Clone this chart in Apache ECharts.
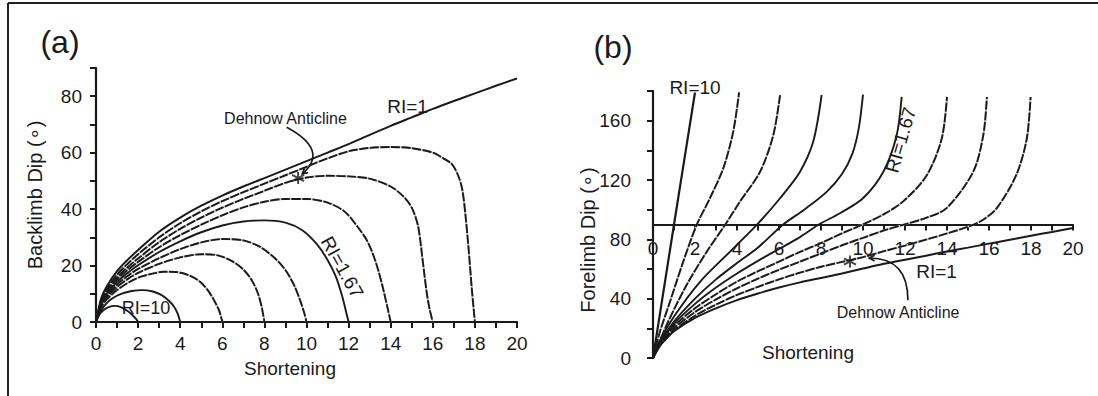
<!DOCTYPE html>
<html><head><meta charset="utf-8">
<script src="https://cdn.jsdelivr.net/npm/echarts@6/dist/echarts.min.js"></script>
<style>html,body{margin:0;padding:0;background:#fff}#c{width:1098px;height:396px}</style>
</head><body><div id="c"></div>
<script>
// ---------- Panel (a): Backlimb dip vs shortening ----------
const aRI1 = [[0,0],[0.25,8.5],[0.5,12.5],[1,18],[1.5,22],[2,25.5],[3,32],[4,37],[5,41.2],[6,44.8],[7,48],[8,51],[9,54],[10,57],[11,60],[12,63],[13,66.3],[14,69.5],[15,72.5],[16,75.5],[17,78.3],[18,81],[19,83.7],[20,86.3]];
const a18 = [[0,0],[0.25,7.8],[0.5,11.6],[1,16.8],[1.5,20.6],[2,24],[3,30],[4,35],[5,39.2],[6,42.8],[7,46],[8,49],[9,52],[10,55],[11,58],[12,60.5],[13,61.7],[14,62],[15,61.6],[16,60],[16.5,58],[16.9,56],[17.2,52],[17.4,47],[17.55,38],[17.7,26],[17.85,12],[18,0]];
const a16 = [[0,0],[0.25,7.3],[0.5,10.9],[1,15.8],[1.5,19.4],[2,22.5],[3,28.3],[4,33],[5,37],[6,40.5],[7,43.6],[8,46.5],[9,49.3],[10,51.2],[11,51.8],[12,51.6],[13,50.8],[14,48],[14.6,44.5],[15,40.5],[15.3,34],[15.5,23],[15.7,11],[15.85,4.5],[16,0]];
const a14 = [[0,0],[0.25,6.9],[0.5,10.3],[1,15],[1.5,18.4],[2,21.3],[3,26.5],[4,30.8],[5,34.5],[6,37.8],[7,40.6],[8,42.6],[9,43.6],[10,43.6],[11,42.3],[11.8,39.2],[12.4,34],[12.9,28.5],[13.3,21],[13.6,13],[13.85,5],[14,0]];
const a12 = [[0,0],[0.25,6.5],[0.5,9.8],[1,14.2],[1.5,17.4],[2,20.1],[3,24.8],[4,28.6],[5,31.8],[6,34.2],[7,35.6],[8,36],[9,35.2],[9.8,32.5],[10.5,27.5],[11,22],[11.4,16],[11.7,9],[11.9,3],[12,0]];
const a10 = [[0,0],[0.25,6.1],[0.5,9.2],[1,13.3],[1.5,16.3],[2,18.8],[3,22.6],[4,25.8],[5,28.2],[6,29.4],[7,28.9],[7.8,26.6],[8.5,22.6],[9,18.4],[9.4,13.2],[9.7,7.6],[9.9,3],[10,0]];
const a8 = [[0,0],[0.25,5.7],[0.5,8.6],[1,12.4],[1.5,15.2],[2,17.4],[3,20.6],[4,22.9],[5,24],[5.8,23.6],[6.5,21.4],[7,18.6],[7.4,14.8],[7.7,10],[7.88,5],[8,0]];
const a6 = [[0,0],[0.25,5.2],[0.5,7.9],[1,11.3],[1.5,13.8],[2,15.7],[2.6,17],[3.2,17.8],[3.8,17.7],[4.4,16.6],[4.9,14.5],[5.3,11.4],[5.6,7.8],[5.85,4],[6,0]];
const a4 = [[0,0],[0.25,4.2],[0.5,6.6],[0.8,8.5],[1.2,10],[1.7,11],[2.2,11.3],[2.7,10.8],[3.1,9.6],[3.45,7.6],[3.7,5.5],[3.88,3],[4,0]];
const a2 = [[0,0],[0.15,2.5],[0.35,4.2],[0.6,5.3],[0.9,5.7],[1.2,5.2],[1.5,3.9],[1.75,2.3],[1.92,0.9],[2,0]];
const starA = [[9.6,51]];

// ---------- Panel (b): Forelimb dip vs shortening ----------
const bRI10 = [[0,0],[1,90],[2,179]];
const b4 = [[0,0],[0.33,17.7],[0.81,38],[1.44,65],[2.08,89.7],[2.71,107.7],[3.35,128],[3.82,152.6],[4.1,179]];
const b6 = [[0,0],[0.65,22.3],[1.6,49.2],[2.56,71.7],[3.43,89.7],[4.14,105.4],[5.1,125.6],[5.73,150.4],[6.05,177.3]];
const b8 = [[0,0],[0.3,11],[1,28],[2.24,51.4],[3.67,71.7],[4.94,89.7],[6.05,107.7],[7.0,125.6],[7.63,145.9],[8.03,177.3]];
const b10 = [[0,0],[0.3,10],[1,24.5],[2,40],[3,53],[4,64],[5,74.5],[6.2,90],[7.2,100],[8.27,112],[9.0,124],[9.5,138],[9.8,155],[10,177.5]];
const b12 = [[0,0],[0.3,9.5],[1,23],[2,36.5],[3,47.5],[4,57],[5,65.5],[6,73.5],[7,81.5],[7.86,89.7],[8.9,97.6],[10,107.7],[10.97,125.6],[11.6,150],[11.84,176]];
const b14 = [[0,0],[0.3,9],[1,21.5],[2,33.5],[3,43],[4,51.5],[5,58.5],[6,65],[7,71.5],[8,77.5],[9,84],[9.94,89.7],[11,97],[11.9,105.4],[13.03,123],[13.75,148],[14,176]];
const b16 = [[0,0],[0.3,8.5],[1,20],[2,31],[3,39.5],[4,47],[5,53.5],[6,59.5],[7,65],[8,70.5],[9,76],[10,81],[11,86],[11.9,89.7],[13,94.5],[13.98,101],[15.25,125.6],[15.73,150.4],[15.9,176]];
const b18 = [[0,0],[0.3,8],[1,18.5],[2,28.5],[3,36],[4,42.5],[5,48],[6,53],[7,57.5],[8,61.5],[9,64.8],[10,68],[11,72],[12,75.8],[13,79.8],[14,84],[15,88.5],[15.7,93],[16.37,101],[17.3,123.4],[17.8,148],[17.98,176]];
const bRI1 = [[0,0],[0.3,7.5],[0.5,11],[1,18],[2,27],[3,33.5],[4,39],[5,43.5],[6,47.5],[7,51],[8,54],[9,57],[10,60.3],[11,63.5],[12,66.3],[13,69],[14,71.8],[15,74.4],[16,77.1],[17,79.7],[18,82.4],[19,85],[20,87.7]];
const starB = [[9.38,65]];

// axis ranges / ticks
const xRange = [0, 20];
const yRangeA = [0, 90];
const yRangeB = [0, 180];
const bAxisAt = 90;   // panel (b) shortening axis drawn at dip = 90

const INK = '#1a1a1a';
const FONT = '"Liberation Sans", Arial, sans-serif';
const GA = {left:96, top:68, width:421, height:254};
const GB = {left:653, top:91, width:420, height:267};

const chart = echarts.init(document.getElementById('c'), null, {renderer:'svg'});

function curve(data, gi, dashed, w) {
  const base = {type:'line', xAxisIndex:gi, yAxisIndex:gi, data:data, symbol:'none',
    smooth:0.3, silent:true, animation:false, clip:false};
  w = w || 1.9;
  if (!dashed) return [Object.assign({}, base, {z:3, lineStyle:{color:INK, width:w}})];
  return [Object.assign({}, base, {z:2, lineStyle:{color:'#c4c4c4', width:w}}),
          Object.assign({}, base, {z:3, lineStyle:{color:INK, width:w, type:[9,1.6]}})];
}
function star(data, gi) {
  return {type:'scatter', xAxisIndex:gi, yAxisIndex:gi, data:data, silent:true, animation:false, z:5,
    symbol:'path://M0,-5L0,5M-4.5,-2.6L4.5,2.6M-4.5,2.6L4.5,-2.6', symbolSize:12,
    itemStyle:{color:'none', borderColor:INK, borderWidth:2}};
}

const series = [].concat(
  curve(aRI1,0,false,2), curve(a18,0,true), curve(a16,0,true), curve(a14,0,true),
  curve(a12,0,false), curve(a10,0,true), curve(a8,0,true), curve(a6,0,true),
  curve(a4,0,false), curve(a2,0,false), [star(starA,0)],
  curve(bRI10,1,false,2.2), curve(b4,1,true), curve(b6,1,true), curve(b8,1,false),
  curve(b10,1,false), curve(b12,1,false), curve(b14,1,true), curve(b16,1,true),
  curve(b18,1,true), curve(bRI1,1,false,2), [star(starB,1)]
);

const axisCommon = {
  type:'value', splitLine:{show:false},
  axisLine:{onZero:false, lineStyle:{color:INK, width:2.2}},
  axisTick:{length:6, lineStyle:{color:INK, width:2}},
};
const lab = (step, margin) => ({fontSize:19, color:INK, fontFamily:FONT, margin:margin,
  formatter: v => (Math.round(v) % step === 0 ? String(v) : '')});

chart.setOption({
  animation:false,
  grid:[Object.assign({containLabel:false}, GA), Object.assign({containLabel:false}, GB)],
  xAxis:[
    Object.assign({}, axisCommon, {gridIndex:0, min:xRange[0], max:xRange[1], interval:1, axisLabel:lab(2,12)}),
    Object.assign({}, axisCommon, {gridIndex:1, min:xRange[0], max:xRange[1], interval:1, axisLabel:lab(2,14),
      offset: -GB.height * (bAxisAt - yRangeB[0]) / (yRangeB[1] - yRangeB[0])})
  ],
  yAxis:[
    Object.assign({}, axisCommon, {gridIndex:0, min:yRangeA[0], max:yRangeA[1], interval:10, axisLabel:lab(20,14)}),
    Object.assign({}, axisCommon, {gridIndex:1, min:yRangeB[0], max:yRangeB[1], interval:20, axisLabel:lab(40,22)})
  ],
  series: series
});

// ---------- annotations (anchored in data coordinates) ----------
const pA = p => chart.convertToPixel({gridIndex:0}, p);
const pB = p => chart.convertToPixel({gridIndex:1}, p);
function txt(text, pt, size, rot) {
  return {type:'text', x:pt[0], y:pt[1], rotation:(rot||0)*Math.PI/180, z:10,
    style:{text:text, fill:INK, font:size+'px '+FONT, fontSize:size, fontFamily:FONT,
      align:'center', verticalAlign:'middle', textAlign:'center', textVerticalAlign:'middle'}};
}
function arrow(p0, c, p1) {
  const dx = p1[0]-c[0], dy = p1[1]-c[1], L = Math.hypot(dx,dy), ux = dx/L, uy = dy/L;
  const h = 6, s = 0.5;
  const l1 = [p1[0] - h*(ux*Math.cos(s) - uy*Math.sin(s)), p1[1] - h*(uy*Math.cos(s) + ux*Math.sin(s))];
  const l2 = [p1[0] - h*(ux*Math.cos(-s) - uy*Math.sin(-s)), p1[1] - h*(uy*Math.cos(-s) + ux*Math.sin(-s))];
  return [
    {type:'bezierCurve', z:9, shape:{x1:p0[0],y1:p0[1],cpx1:c[0],cpy1:c[1],x2:p1[0],y2:p1[1]},
      style:{stroke:INK, lineWidth:1.7, fill:null}},
    {type:'polyline', z:9, shape:{points:[l1,p1,l2]}, style:{stroke:INK, lineWidth:1.7, fill:null}}
  ];
}

const W = 1098, H = 396;
const gfx = [
  // frame
  {type:'line', shape:{x1:8, y1:3, x2:W, y2:3}, style:{stroke:'#222', lineWidth:2}},
  {type:'line', shape:{x1:8, y1:3, x2:8, y2:H}, style:{stroke:'#222', lineWidth:2}},
  // panel letters
  txt('(a)', [60, 42], 32),
  txt('(b)', [613, 47], 32),
  // axis titles
  txt('Shortening', [290, 368], 19),
  txt('Backlimb Dip (\u2218)', [35, 195], 20, 90),
  txt('Shortening', [808, 352], 19),
  txt('Forelimb Dip (\u2218)', [588, 240], 20, 90),
  // panel (a) labels
  txt('RI=1', pA([14.8, 76.5]), 19),
  txt('Dehnow Anticline', pA([9.0, 72.2]), 16),
  txt('RI=10', pA([2.38, 4.9]), 18),
  txt('RI=1.67', pA([11.7, 19.4]), 19, -61),
  // panel (b) labels
  txt('RI=10', pB([2.0, 182.5]), 19),
  txt('RI=1.67', pB([11.8, 147]), 19, 74),
  txt('RI=1', pB([13.5, 58]), 19),
  txt('Dehnow Anticline', pB([11.67, 31]), 16)
].concat(
  arrow(pA([9.06, 69]), pA([11.1, 60.8]), pA([9.8, 52.5])),
  arrow(pB([12.14, 39]), pB([12.14, 67.4]), pB([10.3, 67.4]))
);
chart.setOption({graphic: gfx});
</script></body></html>
